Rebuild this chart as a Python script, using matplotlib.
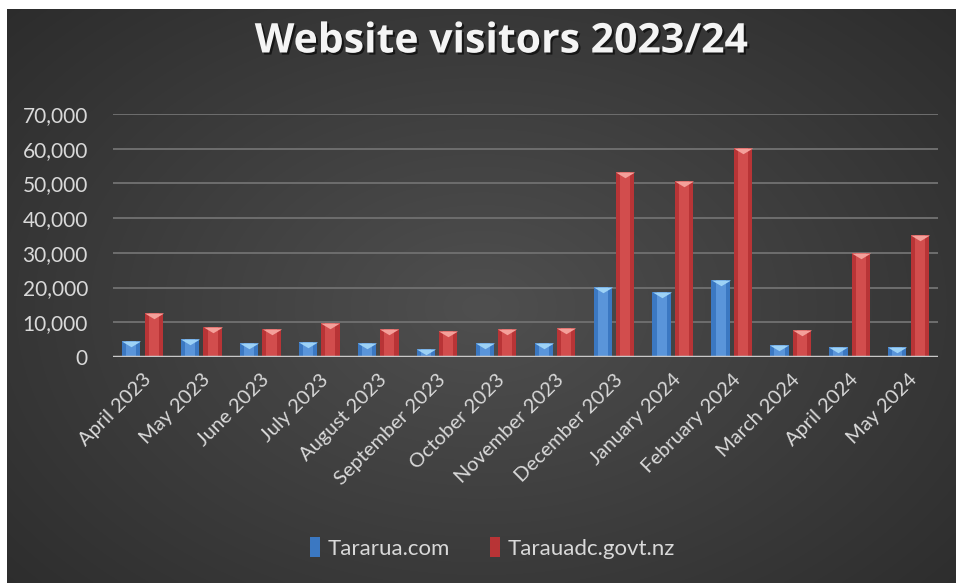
import numpy as np
import matplotlib.pyplot as plt
import matplotlib.patheffects as pe
from matplotlib.path import Path
from matplotlib.ticker import FuncFormatter

months = ['April 2023', 'May 2023', 'June 2023', 'July 2023', 'August 2023',
          'September 2023', 'October 2023', 'November 2023', 'December 2023',
          'January 2024', 'February 2024', 'March 2024', 'April 2024', 'May 2024']
tararua_com = [4700, 5250, 3950, 4400, 3950, 2300, 3950, 3950,
               20250, 18800, 22100, 3450, 2850, 2850]
tdc_govt = [12600, 8700, 8150, 9700, 8150, 7400, 8050, 8450,
            53200, 50700, 60100, 7750, 29900, 35050]
series_names = ['Tararua.com', 'Tarauadc.govt.nz']

plt.rcParams['font.family'] = ['Lato', 'DejaVu Sans']
W, H = 956, 583
fig = plt.figure(figsize=(W / 100, H / 100), dpi=100, facecolor='white')

# dark radial background behind everything
bg = fig.add_axes([7 / W, 0, 1 - 7 / W, 1 - 9 / H], zorder=-10)
yy, xx = np.mgrid[0:1:300j, 0:1:500j]
r = np.sqrt(((xx - 0.5) / 0.75) ** 2 + ((yy - 0.52) / 0.85) ** 2)
shade = np.clip(0.31 - 0.15 * r, 0.16, 0.31)
bg.imshow(np.dstack([shade] * 3), aspect='auto', extent=[0, 1, 0, 1], interpolation='bicubic')
bg.axis('off')

ax = fig.add_axes([113 / W, 1 - 357 / H, (938 - 113) / W, (357 - 114) / H])
ax.set_facecolor('none')

x = np.arange(len(months))
w = 0.31
off = 0.19
# downward bevel drawn at the top edge of each bar
bevel = Path([(-1, 0), (1, 0), (0, -0.6), (-1, 0)],
             [Path.MOVETO, Path.LINETO, Path.LINETO, Path.CLOSEPOLY])

styles = [('#3b78c2', '#5a95da', '#9dd2f6'), ('#b83436', '#d24d4d', '#f4a09a')]
for k, (vals, name) in enumerate([(tararua_com, series_names[0]), (tdc_govt, series_names[1])]):
    dark, mid, light = styles[k]
    pos = x + (2 * k - 1) * off
    ax.bar(pos, vals, w, color=dark, zorder=3, label=name)
    ax.bar(pos, vals, w * 0.55, color=mid, zorder=3.5)
    ax.scatter(pos, vals, marker=bevel, s=190, color=light, zorder=4, linewidths=0,
               clip_on=False)

ax.set_xlim(-0.5, len(months) - 0.5)
ax.set_ylim(0, 70000)
ax.set_yticks(np.arange(0, 70001, 10000))
ax.yaxis.set_major_formatter(FuncFormatter(lambda v, p: f'{int(v):,}'))
ax.set_xticks(x)
ax.set_xticklabels(months, rotation=45, ha='right', rotation_mode='anchor')
ax.tick_params(length=0, labelsize=15, colors='#d9d9d9')
ax.tick_params(axis='x', pad=10, labelsize=14.5)
ax.tick_params(axis='y', pad=18)
ax.grid(axis='y', color='#6e6e6e', linewidth=1.4, zorder=0)
for s in ax.spines.values():
    s.set_visible(False)
ax.axhline(0, color='#c8c8c8', linewidth=2.5, zorder=5)

fig.text(0.525, 1 - 42 / H, 'Website visitors 2023/24', ha='center', va='center',
         fontsize=29.5, fontweight='bold', color='#f4f4f4', family=['Open Sans', 'DejaVu Sans'],
         path_effects=[pe.withSimplePatchShadow(offset=(1.5, -1.5), shadow_rgbFace='black', alpha=0.6)])

leg = fig.legend(loc='center', bbox_to_anchor=(0.515, 1 - 548 / H), ncol=2, frameon=False,
                 fontsize=16, labelcolor='#d9d9d9', handlelength=0.45, handleheight=1.0,
                 handletextpad=0.35, columnspacing=1.8)

fig.savefig('out.png', dpi=100, facecolor=fig.get_facecolor())
